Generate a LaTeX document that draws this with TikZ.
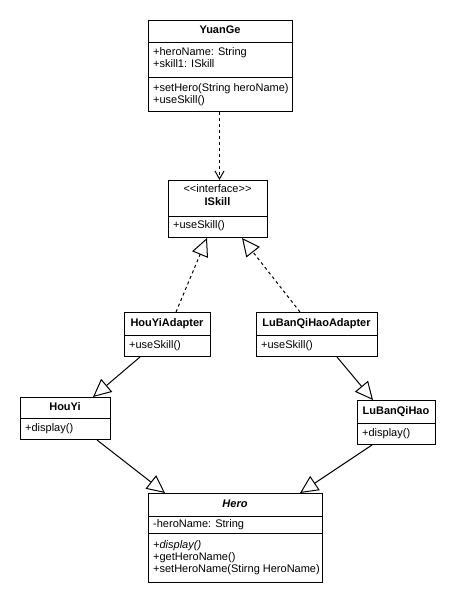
\documentclass[tikz,border=0pt]{standalone}
\usepackage{fontspec}
\setmainfont{Liberation Sans}
\usetikzlibrary{arrows.meta}
\begin{document}
\begin{tikzpicture}[x=1pt,y=-1pt,
  box/.style={draw, line width=1pt, rectangle, inner sep=0pt, anchor=north west},
  sep/.style={line width=1pt},
  txt/.style={anchor=west, inner sep=0pt, font=\fontsize{11}{13}\selectfont, text height=8pt, text depth=2.5pt},
  ttl/.style={inner sep=0pt, font=\fontsize{11}{13}\selectfont\bfseries, text height=8pt, text depth=2.5pt},
  depend/.style={line width=1pt, dash pattern=on 3pt off 3pt, -{Straight Barb[length=8pt,width=9pt,line width=1pt]}},
  realize/.style={line width=1pt, dash pattern=on 3pt off 3pt, -{Triangle[open,length=18pt,width=17pt,line width=1pt]}},
  inherit/.style={line width=1pt, -{Triangle[open,length=18pt,width=17pt,line width=1pt]}}
]
\fill[white] (0,0) rectangle (455,606);
\useasboundingbox (0,0) rectangle (455,606);

% YuanGe
\node[box, minimum width=144pt, minimum height=91pt] (yuange) at (148,20) {};
\draw[sep] (148,42) -- (292,42);
\draw[sep] (148,77) -- (292,77);
\node[ttl] (yt) at (220,31) {YuanGe};
\node[txt] (ya1) at (153,52.5) {+heroName: String};
\node[txt] (ya2) at (153,64.5) {+skill1: ISkill};
\node[txt] (ym1) at (153,88.5) {+setHero(String heroName)};
\node[txt] (ym2) at (153,100.5) {+useSkill()};

% ISkill
\node[box, minimum width=99pt, minimum height=57pt] (iskill) at (168,180) {};
\draw[sep] (168,216) -- (267,216);
\node[ttl, font=\fontsize{11}{13}\selectfont] (it0) at (217.5,190) {{<}{<}interface{>}{>}};
\node[ttl] (it) at (217.5,202.5) {ISkill};
\node[txt] (im1) at (173,226) {+useSkill()};

% HouYiAdapter
\node[box, minimum width=86pt, minimum height=44pt] (houyiad) at (124,312) {};
\draw[sep] (124,335) -- (210,335);
\node[ttl] (hat) at (167,323.5) {HouYiAdapter};
\node[txt] (ham) at (129,345.5) {+useSkill()};

% LuBanQiHaoAdapter
\node[box, minimum width=121pt, minimum height=44pt] (lubanad) at (256,312) {};
\draw[sep] (256,335) -- (377,335);
\node[ttl] (lat) at (316.5,323.5) {LuBanQiHaoAdapter};
\node[txt] (lam) at (261,345.5) {+useSkill()};

% HouYi
\node[box, minimum width=90pt, minimum height=42pt] (houyi) at (20,397) {};
\draw[sep] (20,418) -- (110,418);
\node[ttl] (ht) at (65,407.5) {HouYi};
\node[txt] (hm) at (25,428.5) {+display()};

% LuBanQiHao
\node[box, minimum width=78pt, minimum height=44pt] (luban) at (357,400) {};
\draw[sep] (357,423) -- (435,423);
\node[ttl] (lt) at (396,411.5) {LuBanQiHao};
\node[txt] (lm) at (362,433.5) {+display()};

% Hero
\node[box, minimum width=174pt, minimum height=89pt] (hero) at (148,493) {};
\draw[sep] (148,516) -- (322,516);
\draw[sep] (148,533) -- (322,533);
\node[ttl, font=\fontsize{11}{13}\selectfont\bfseries\itshape] (het) at (235,504.5) {Hero};
\node[txt] (hea) at (153,524.5) {-heroName: String};
\node[txt, font=\fontsize{11}{13}\selectfont\itshape] (hem1) at (153,546) {+display()};
\node[txt] (hem2) at (153,558) {+getHeroName()};
\node[txt] (hem3) at (153,570) {+setHeroName(Stirng HeroName)};

% connectors
\draw[depend] ([xshift=-1pt]yuange.south) -- ([xshift=-1pt]yuange.south |- iskill.north);
\draw[realize] ([xshift=52pt]houyiad.north west) -- ([xshift=39pt]iskill.south west);
\draw[realize] ([xshift=44pt]lubanad.north west) -- ([xshift=74pt]iskill.south west);
\draw[inherit] ([xshift=16pt]houyiad.south west) -- ([xshift=73pt]houyi.north west);
\draw[inherit] ([xshift=81pt]lubanad.south west) -- ([xshift=16pt]luban.north west);
\draw[inherit] ([xshift=77pt]houyi.south west) -- ([xshift=17pt]hero.north west);
\draw[inherit] ([xshift=15pt]luban.south west) -- ([xshift=152pt]hero.north west);
\end{tikzpicture}
\end{document}
